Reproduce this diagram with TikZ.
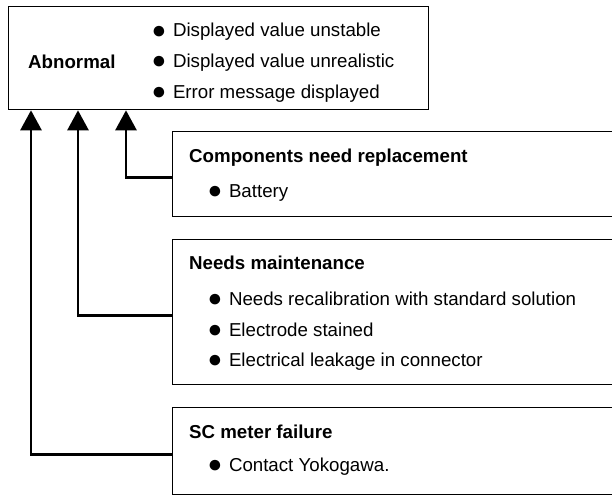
\documentclass[tikz,border=0pt]{standalone}
\usepackage{fontspec}
\setmainfont{Liberation Sans}
\usetikzlibrary{arrows.meta, positioning}
\newcommand{\blt}{\makebox[21.5pt][l]{\raisebox{-1.2pt}{\fontsize{24.5}{24.5}\selectfont ●}}}

\begin{document}
\begin{tikzpicture}[
    x=1pt, y=-1pt,
    font=\fontsize{18.7}{22}\selectfont,
    box/.style={draw, line width=1.3pt, anchor=north west, inner sep=0pt},
    head/.style={anchor=base west, inner sep=0pt, font=\fontsize{18.7}{22}\selectfont\bfseries},
    entry/.style={anchor=base west, inner sep=0pt},
    link/.style={line width=2.6pt, -{Triangle[length=20pt, width=21pt]}},
]
\useasboundingbox (0,0) rectangle (612,495);

% Boxes
\node[box, minimum width=420pt, minimum height=103pt] (abn) at (8,6) {};
\node[box, minimum width=480pt, minimum height=85pt] (parts) at (172,131) {};
\node[box, minimum width=480pt, minimum height=145pt] (maint) at (172,239) {};
\node[box, minimum width=480pt, minimum height=87pt] (fail) at (172,407) {};

% Abnormal
\node[head] (abn-title) at (28,68.5) {Abnormal};
\node[entry] (abn1) at (151.3,37) {\blt Displayed value unstable};
\node[entry] (abn2) at (151.3,67.5) {\blt Displayed value unrealistic};
\node[entry] (abn3) at (151.3,98) {\blt Error message displayed};

% Components need replacement
\node[head] (parts-title) at (189,162.5) {Components need replacement};
\node[entry] (parts1) at (207.3,197.5) {\blt Battery};

% Needs maintenance
\node[head] (maint-title) at (189,269.5) {Needs maintenance};
\node[entry] (maint1) at (207.3,305.5) {\blt Needs recalibration with standard solution};
\node[entry] (maint2) at (207.3,336) {\blt Electrode stained};
\node[entry] (maint3) at (207.3,366.5) {\blt Electrical leakage in connector};

% SC meter failure
\node[head] (fail-title) at (189,438.5) {SC meter failure};
\node[entry] (fail1) at (207.3,471.5) {\blt Contact Yokogawa.};

% Arrows into the Abnormal box
\coordinate (in1) at ([xshift=23pt]abn.south west);
\coordinate (in2) at ([xshift=70pt]abn.south west);
\coordinate (in3) at ([xshift=118pt]abn.south west);
\draw[link] ([yshift=-3.5pt]parts.west) -| (in3);
\draw[link] ([yshift=-3.5pt]maint.west) -| (in2);
\draw[link] ([yshift=-3.5pt]fail.west) -| (in1);

\end{tikzpicture}
\end{document}
